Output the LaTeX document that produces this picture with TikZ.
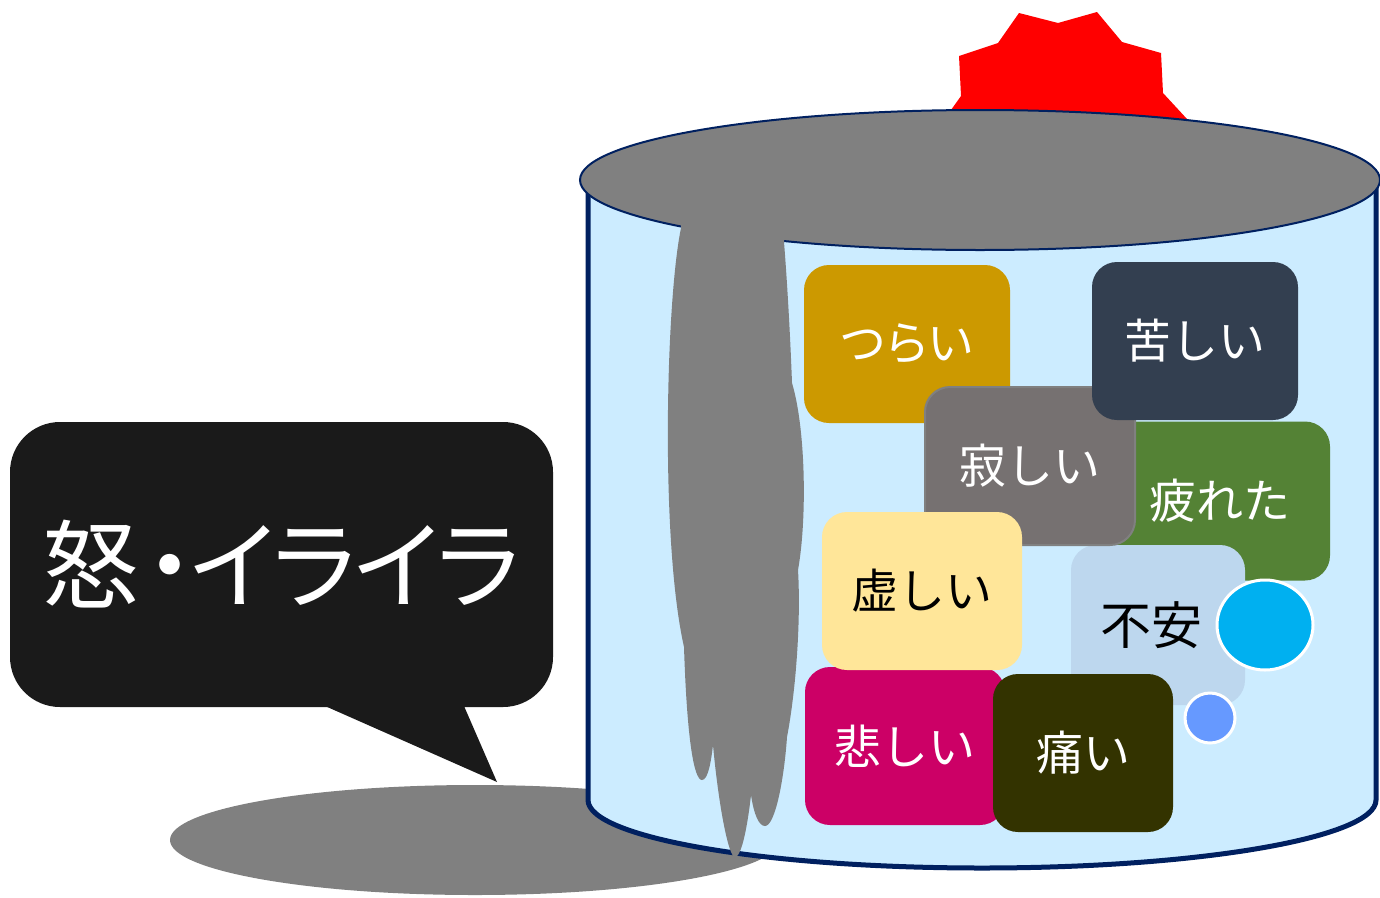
\documentclass[tikz,border=0pt]{standalone}
\usepackage{fontspec}
\setmainfont{Noto Sans CJK JP}
\newfontfamily\jpprop[RawFeature=+palt]{Noto Sans CJK JP}
\usetikzlibrary{shapes.geometric}

\definecolor{jarfill}{HTML}{CCECFF}
\definecolor{navy}{HTML}{002060}
\definecolor{ash}{HTML}{808080}
\definecolor{gold}{HTML}{CC9900}
\definecolor{slate}{HTML}{333F50}
\definecolor{stone}{HTML}{767171}
\definecolor{leaf}{HTML}{548235}
\definecolor{mist}{HTML}{BDD7EE}
\definecolor{cyanball}{HTML}{00B0F0}
\definecolor{blueball}{HTML}{6699FF}
\definecolor{cream}{HTML}{FFE699}
\definecolor{berry}{HTML}{CC0066}
\definecolor{olive}{HTML}{333300}
\definecolor{ink}{HTML}{1A1A1A}

\tikzset{
  feel/.style={rounded corners=25pt, inner sep=0pt, font=\fontsize{47}{50}\selectfont,
    text=white, minimum width=#1},
  feel/.default=206pt,
  ball/.style={draw=white, line width=3pt}
}

\begin{document}
\begin{tikzpicture}[x=1pt,y=-1pt]
\useasboundingbox (0,0) rectangle (1380,897);

% puddle on the floor
\fill[ash] (475,840) ellipse[x radius=305, y radius=55];

% red burst rising from the lid
\fill[red] (951,110) -- (961,96) -- (959,56) -- (998,43) -- (1019,13) -- (1058,23)
  -- (1097,12) -- (1122,42) -- (1161,53) -- (1163,93) -- (1187,119) -- (1180,170)
  -- (960,170) -- cycle;

% jar body
\filldraw[fill=jarfill, draw=navy, line width=5pt, line join=round]
  (588,180) -- (588,800) arc[start angle=180, end angle=0, x radius=394, y radius=68]
  -- (1376,180);

% lid
\filldraw[fill=ash, draw=navy, line width=2pt] (980,180) ellipse[x radius=400, y radius=70];

% grey overflow dripping down the front
\fill[ash] (681,205) -- (681,228)
  .. controls (666,300) and (660,540) .. (684,647)
  .. controls (687,740) and (694,780) .. (702,780)
  .. controls (708,780) and (711,762) .. (713,745)
  .. controls (718,800) and (728,857) .. (735,857)
  .. controls (742,857) and (748,822) .. (751,795)
  .. controls (754,815) and (759,826) .. (765,826)
  .. controls (775,826) and (784,780) .. (787,737)
  .. controls (796,690) and (801,620) .. (798,570)
  .. controls (807,520) and (806,430) .. (792,383)
  .. controls (790,330) and (787,280) .. (784,242)
  -- (784,205) -- cycle;

% feelings inside the jar
\node[feel, fill=gold, minimum height=158pt] (tsurai) at (907,344) {つ\kern-3ptら\kern-3ptい};
\node[feel=220pt, fill=leaf, minimum height=159pt] (tsukareta) at (1220,501) {疲れた};
\node[feel=174pt, fill=mist, minimum height=160pt, text=black,
  font=\fontsize{51}{54}\selectfont] (fuan) at (1158,625) {\hspace*{-1pt}不安\hspace*{12pt}};
\node[feel=210pt, fill=stone, draw=ash, line width=2pt, minimum height=158pt] (sabishii) at (1030,466) {寂しい};
\node[feel, fill=slate, minimum height=158pt] (kurushii) at (1195,341) {苦しい};
\node[feel=200pt, fill=berry, minimum height=158pt] (kanashii) at (905,746) {悲しい};
\node[feel=200pt, fill=cream, minimum height=158pt, text=black] (munashii) at (922,591) {虚しい};
\node[feel=180pt, fill=olive, minimum height=158pt] (itai) at (1083,753) {痛い};
\node[ball, ellipse, fill=cyanball, minimum width=96pt, minimum height=90pt, inner sep=0pt] (bigball) at (1265,625) {};
\node[ball, circle, fill=blueball, minimum size=50pt, inner sep=0pt] (smallball) at (1210,718) {};

% speech bubble
\node[fill=ink, rounded corners=50pt, minimum width=543pt, minimum height=285pt,
  inner sep=0pt, text=white, font=\jpprop\fontsize{97}{103}\selectfont] (anger) at (281.5,564.5)
  {怒\kern6pt・\kern-4ptイ\kern-3ptラ\kern-3ptイ\kern-3ptラ};
\coordinate (tailL) at (325,706);
\coordinate (tailR) at (464,706);
\coordinate (tailTip) at (497,782);
\fill[ink] (tailL) -- (tailTip) -- (tailR) -- cycle;

\end{tikzpicture}
\end{document}
